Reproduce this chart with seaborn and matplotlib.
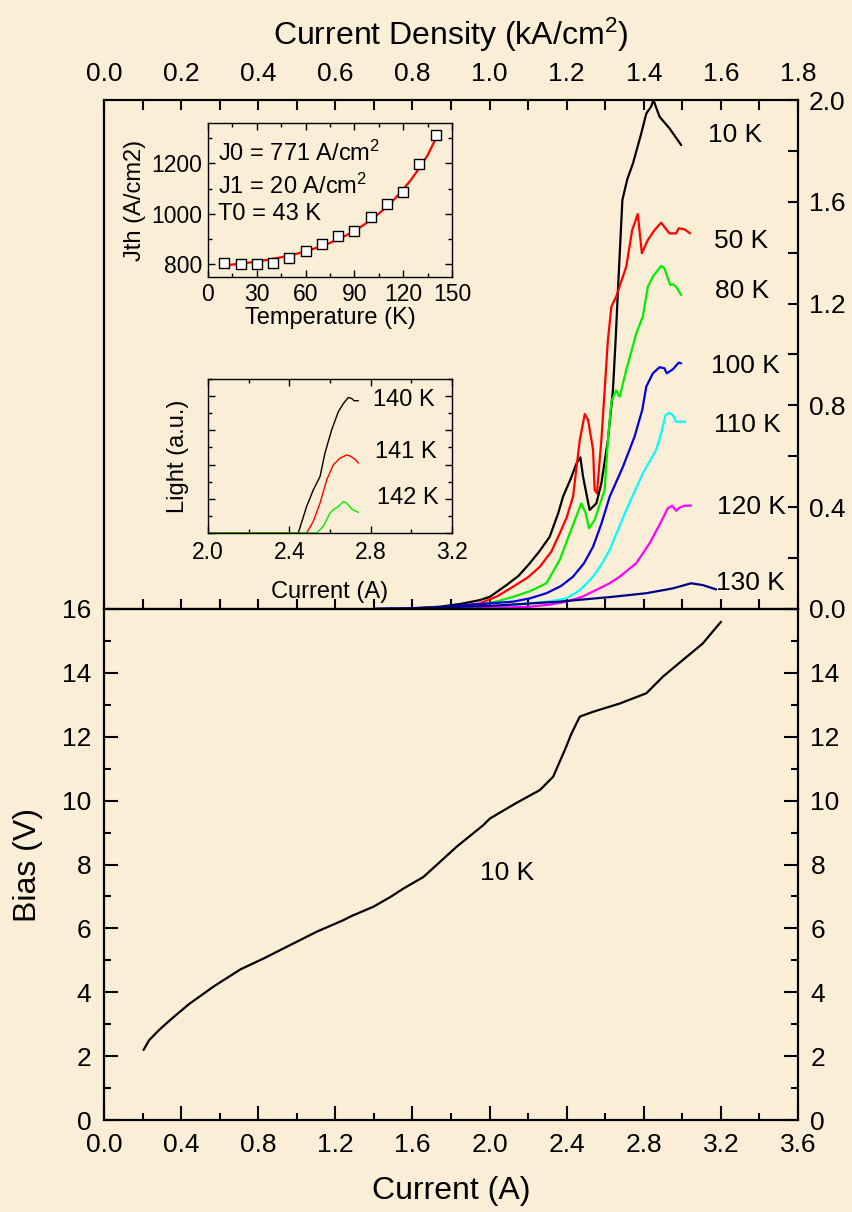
import numpy as np
import pandas as pd
import seaborn as sns
import matplotlib
matplotlib.use("Agg")
import matplotlib.pyplot as plt
from matplotlib.ticker import MultipleLocator, FormatStrFormatter

# ---------------- data ----------------
# Light output (top panel), current in A, light in a.u.
I_10K = [1.397, 1.60, 1.743, 1.85, 1.95, 2.002, 2.088, 2.15, 2.209, 2.26, 2.312, 2.356, 2.381, 2.42, 2.451,
         2.471, 2.485, 2.519, 2.554, 2.580, 2.614, 2.640, 2.654, 2.666, 2.689, 2.715, 2.744, 2.787, 2.813,
         2.838, 2.850, 2.882, 2.933, 2.994]
L_10K = [0.0, 0.003, 0.009, 0.020, 0.035, 0.048, 0.094, 0.130, 0.180, 0.228, 0.284, 0.376, 0.441, 0.510, 0.572,
         0.596, 0.520, 0.389, 0.415, 0.494, 0.664, 0.860, 1.057, 1.253, 1.607, 1.690, 1.751, 1.869, 1.947,
         1.974, 2.0, 1.934, 1.889, 1.823]

I_50K = [1.397, 1.60, 1.80, 1.950, 2.04, 2.123, 2.20, 2.261, 2.32, 2.364, 2.40, 2.433, 2.468, 2.494, 2.511,
         2.537, 2.545, 2.557, 2.580, 2.597, 2.614, 2.632, 2.657, 2.709, 2.740, 2.769, 2.790, 2.821, 2.856,
         2.890, 2.933, 2.968, 2.981, 3.011, 3.040]
L_50K = [0.0, 0.002, 0.008, 0.022, 0.050, 0.088, 0.125, 0.166, 0.225, 0.297, 0.360, 0.441, 0.664, 0.766, 0.743,
         0.625, 0.468, 0.455, 0.664, 0.860, 1.057, 1.188, 1.228, 1.345, 1.489, 1.552, 1.398, 1.450, 1.489,
         1.518, 1.476, 1.476, 1.496, 1.492, 1.476]

I_80K = [1.397, 1.70, 1.950, 2.04, 2.123, 2.21, 2.295, 2.364, 2.416, 2.476, 2.499, 2.516, 2.545, 2.597, 2.614,
         2.632, 2.657, 2.675, 2.709, 2.752, 2.761, 2.795, 2.821, 2.847, 2.890, 2.907, 2.937, 2.951, 2.968, 2.994]
L_80K = [0.0, 0.004, 0.016, 0.030, 0.048, 0.070, 0.101, 0.193, 0.297, 0.415, 0.376, 0.317, 0.350, 0.468, 0.664,
         0.815, 0.860, 0.834, 0.939, 1.057, 1.083, 1.149, 1.266, 1.306, 1.348, 1.339, 1.273, 1.276, 1.266, 1.234]

I_100K = [1.397, 1.70, 1.881, 2.00, 2.123, 2.21, 2.295, 2.37, 2.433, 2.49, 2.537, 2.58, 2.623, 2.692, 2.752,
          2.792, 2.813, 2.847, 2.882, 2.907, 2.919, 2.951, 2.981, 2.994]
L_100K = [0.0, 0.004, 0.016, 0.022, 0.029, 0.042, 0.062, 0.090, 0.127, 0.180, 0.245, 0.335, 0.441, 0.559, 0.677,
          0.782, 0.874, 0.926, 0.950, 0.946, 0.926, 0.942, 0.968, 0.965]

I_110K = [1.397, 1.80, 1.950, 2.10, 2.209, 2.31, 2.399, 2.47, 2.537, 2.58, 2.623, 2.709, 2.795, 2.864, 2.890,
          2.913, 2.933, 2.951, 2.968, 3.016]
L_110K = [0.0, 0.003, 0.005, 0.013, 0.022, 0.030, 0.042, 0.075, 0.127, 0.175, 0.232, 0.389, 0.533, 0.625,
          0.690, 0.762, 0.771, 0.762, 0.736, 0.736]

I_120K = [1.397, 1.90, 2.05, 2.209, 2.31, 2.399, 2.48, 2.554, 2.62, 2.675, 2.761, 2.830, 2.890, 2.925, 2.947,
          2.968, 2.985, 3.011, 3.045]
L_120K = [0.0, 0.002, 0.005, 0.009, 0.017, 0.029, 0.048, 0.075, 0.100, 0.127, 0.180, 0.258, 0.343, 0.396,
          0.406, 0.386, 0.398, 0.406, 0.406]

I_130K = [1.397, 1.588, 2.000, 2.364, 2.640, 2.813, 2.951, 3.045, 3.106, 3.175]
L_130K = [0.0, 0.003, 0.012, 0.029, 0.048, 0.062, 0.081, 0.101, 0.094, 0.077]

temps_main = ["10 K", "50 K", "80 K", "100 K", "110 K", "120 K", "130 K"]
label_x = [3.135, 3.166, 3.171, 3.150, 3.166, 3.181, 3.176]
label_y = [1.862, 1.446, 1.250, 0.955, 0.723, 0.401, 0.102]
colors_main = ["black", "#FF0000", "#00EE00", "#0000DD", "#00FFFF", "#FF00FF", "#000080"]

# Bias vs current at 10 K (bottom panel)
I_bias = [0.205, 0.234, 0.286, 0.347, 0.441, 0.571, 0.709, 0.829, 0.950, 1.036, 1.105, 1.243, 1.278, 1.398,
          1.485, 1.554, 1.657, 1.830, 1.967, 2.002, 2.106, 2.140, 2.261, 2.330, 2.390, 2.425, 2.468, 2.536,
          2.675, 2.813, 2.899, 3.002, 3.106, 3.157, 3.201]
V_bias = [2.19, 2.50, 2.82, 3.15, 3.63, 4.19, 4.72, 5.06, 5.43, 5.69, 5.90, 6.26, 6.37, 6.68,
          6.98, 7.25, 7.61, 8.56, 9.23, 9.44, 9.81, 9.93, 10.33, 10.75, 11.58, 12.10, 12.63, 12.78,
          13.04, 13.36, 13.88, 14.40, 14.92, 15.29, 15.60]
bias_ticks = [0, 2, 4, 6, 8, 10, 12, 14, 16]
bias_right_labels = ["0", "2", "4", "6", "8", "10", "12", "14", ""]

# Inset 1: threshold current density vs temperature
T_K = [10, 20, 30, 40, 50, 60, 70, 80, 90, 100, 110, 120, 130, 140]
Jth = [805, 803, 803, 807, 826, 853, 882, 912, 934, 989, 1039, 1086, 1197, 1312]
T_fit = [10, 15, 20, 25, 30, 35, 40, 45, 50, 55, 60, 65, 70, 75, 80, 85, 90, 95, 100, 105, 110, 115,
         120, 125, 130, 135, 140]
J_fit = [796, 799, 803, 807, 811, 816, 822, 828, 835, 843, 852, 862, 873, 885, 900, 915, 933, 953,
         976, 1001, 1029, 1061, 1097, 1137, 1182, 1232, 1298]
fit_text = ["J0 = 771 A/cm$^2$", "J1 = 20 A/cm$^2$", "T0 = 43 K"]

# Inset 2: light vs current near 140 K
I_140 = [2.0, 2.444, 2.485, 2.518, 2.551, 2.575, 2.608, 2.641, 2.666, 2.690, 2.707, 2.718, 2.740]
L_140 = [0.0, 0.0, 1.55, 2.52, 3.30, 4.66, 6.02, 7.09, 7.57, 7.92, 7.86, 7.73, 7.73]
I_141 = [2.0, 2.485, 2.518, 2.551, 2.584, 2.616, 2.649, 2.682, 2.699, 2.723, 2.740]
L_141 = [0.0, 0.0, 0.68, 1.75, 3.11, 3.98, 4.37, 4.56, 4.50, 4.31, 4.08]
I_142 = [2.0, 2.534, 2.567, 2.600, 2.616, 2.641, 2.666, 2.682, 2.707, 2.740]
L_142 = [0.0, 0.0, 0.39, 1.17, 1.36, 1.55, 1.84, 1.75, 1.40, 1.20]
inset_temps = ["140 K", "141 K", "142 K"]
inset_lx = [2.811, 2.821, 2.831]
inset_ly = [7.8, 4.74, 2.05]
inset_colors = ["black", "#FF0000", "#00EE00"]

# ---------------- style ----------------
BG = "#FAEFD6"
sns.set_theme(style="ticks")
plt.rcParams["font.family"] = ["Liberation Sans", "DejaVu Sans"]
plt.rcParams["mathtext.default"] = "regular"
plt.rcParams["axes.linewidth"] = 1.5
plt.rcParams["xtick.direction"] = "in"
plt.rcParams["ytick.direction"] = "in"
for k in ["text.color", "axes.labelcolor", "xtick.color", "ytick.color", "axes.edgecolor"]:
    plt.rcParams[k] = "black"

fig = plt.figure(figsize=(8.53, 12.12), dpi=100, facecolor=BG)

L, W = 104 / 853, 694 / 853
ax_b = fig.add_axes([L, 92 / 1212, W, 511 / 1212])
ax_t = fig.add_axes([L, 603 / 1212, W, 509 / 1212])
for a in (ax_b, ax_t):
    a.set_facecolor("none")
    for s in a.spines.values():
        s.set_color("black")
        s.set_linewidth(1.5)

TICK = 19

# ---- top panel: light output ----
series = [(I_10K, L_10K), (I_50K, L_50K), (I_80K, L_80K), (I_100K, L_100K),
          (I_110K, L_110K), (I_120K, L_120K), (I_130K, L_130K)]
for (xi, yi), c in zip(series, colors_main):
    sns.lineplot(x=xi, y=yi, ax=ax_t, color=c, linewidth=1.6, sort=False, estimator=None)
for t, x, y in zip(temps_main, label_x, label_y):
    ax_t.text(x, y, t, fontsize=19, ha="left", va="center", color="black")

ax_t.set_xlim(0, 3.6)
ax_t.set_ylim(0, 2.0)
ax_t.yaxis.set_ticks_position("right")
ax_t.yaxis.set_label_position("right")
ax_t.yaxis.set_major_locator(MultipleLocator(0.4))
ax_t.yaxis.set_minor_locator(MultipleLocator(0.2))
ax_t.yaxis.set_major_formatter(FormatStrFormatter("%.1f"))
ax_t.tick_params(axis="y", which="both", direction="in", length=7, width=1.5, labelsize=TICK, pad=8,
                 left=False, right=True, labelleft=False, labelright=True)
ax_t.xaxis.set_major_locator(MultipleLocator(0.2))
ax_t.tick_params(axis="x", which="both", direction="in", length=7, width=1.5,
                 bottom=True, top=False, labelbottom=False)
ax_t.set_xlabel("")
ax_t.set_ylabel("")

ax_d = ax_t.twiny()
ax_d.set_xlim(0, 1.8)
ax_d.xaxis.set_major_locator(MultipleLocator(0.2))
ax_d.xaxis.set_minor_locator(MultipleLocator(0.1))
ax_d.xaxis.set_major_formatter(FormatStrFormatter("%.1f"))
ax_d.tick_params(axis="x", which="both", direction="in", length=7, width=1.5, labelsize=TICK, pad=10)
ax_d.set_xlabel("Current Density (kA/cm$^2$)", fontsize=23, labelpad=12)
ax_d.spines["top"].set_linewidth(1.5)

# ---- bottom panel: bias ----
sns.lineplot(x=I_bias, y=V_bias, ax=ax_b, color="black", linewidth=1.6, sort=False, estimator=None)
ax_b.text(1.950, 7.73, "10 K", fontsize=19, ha="left", va="center")
ax_b.set_xlim(0, 3.6)
ax_b.set_ylim(0, 16)
ax_b.xaxis.set_major_locator(MultipleLocator(0.4))
ax_b.xaxis.set_minor_locator(MultipleLocator(0.2))
ax_b.xaxis.set_major_formatter(FormatStrFormatter("%.1f"))
ax_b.set_yticks(bias_ticks)
ax_b.yaxis.set_minor_locator(MultipleLocator(1))
ax_b.tick_params(which="major", direction="in", length=10, width=1.5, labelsize=TICK, pad=9,
                 left=True, right=True, labelleft=True, labelright=False, top=False)
ax_b.tick_params(which="minor", direction="in", length=5, width=1.5,
                 left=True, right=True, top=False)
ax_b.set_xlabel("Current (A)", fontsize=23, labelpad=14)
ax_b.set_ylabel("Bias (V)", fontsize=23, labelpad=14)

ax_r = ax_b.twinx()
ax_r.set_ylim(0, 16)
ax_r.set_yticks(bias_ticks)
ax_r.set_yticklabels(bias_right_labels)
ax_r.tick_params(axis="y", which="major", direction="in", length=10, width=1.5, labelsize=TICK, pad=9)
ax_r.yaxis.set_minor_locator(MultipleLocator(1))
ax_r.tick_params(axis="y", which="minor", direction="in", length=5, width=1.5)
ax_r.set_facecolor("none")

# ---- inset 1: Jth vs T ----
ax_i1 = fig.add_axes([208 / 853, 935 / 1212, 244 / 853, 154 / 1212])
ax_i1.set_facecolor("none")
sns.lineplot(x=T_fit, y=J_fit, ax=ax_i1, color="#FF0000", linewidth=1.6, sort=False, estimator=None)
sns.scatterplot(x=T_K, y=Jth, ax=ax_i1, marker="s", s=60, facecolor="white",
                edgecolor="black", linewidth=1.0, zorder=3)
ax_i1.set_xlim(0, 150)
ax_i1.set_ylim(750, 1360)
ax_i1.xaxis.set_major_locator(MultipleLocator(30))
ax_i1.xaxis.set_minor_locator(MultipleLocator(15))
ax_i1.yaxis.set_major_locator(MultipleLocator(200))
ax_i1.yaxis.set_minor_locator(MultipleLocator(100))
ax_i1.tick_params(which="major", direction="in", length=5, width=1.0, labelsize=16.5, pad=4,
                  top=True, right=True)
ax_i1.tick_params(which="minor", direction="in", length=3, width=1.0, top=True, right=True)
ax_i1.set_xlabel("Temperature (K)", fontsize=17, labelpad=1)
ax_i1.set_ylabel("Jth (A/cm2)", fontsize=17, labelpad=4)
for s in ax_i1.spines.values():
    s.set_linewidth(1.0)
    s.set_color("black")
for t, y in zip(fit_text, [1238, 1110, 1000]):
    ax_i1.text(6, y, t, fontsize=17, ha="left", va="center")

# ---- inset 2: light vs current near 140 K ----
ax_i2 = fig.add_axes([208 / 853, 679 / 1212, 244 / 853, 154 / 1212])
ax_i2.set_facecolor("none")
for (xi, yi), c in zip([(I_140, L_140), (I_141, L_141), (I_142, L_142)], inset_colors):
    sns.lineplot(x=xi, y=yi, ax=ax_i2, color=c, linewidth=1.0, sort=False, estimator=None)
for t, x, y in zip(inset_temps, inset_lx, inset_ly):
    ax_i2.text(x, y, t, fontsize=17, ha="left", va="center")
ax_i2.set_xlim(2.0, 3.2)
ax_i2.set_ylim(0, 9)
ax_i2.xaxis.set_major_locator(MultipleLocator(0.4))
ax_i2.xaxis.set_minor_locator(MultipleLocator(0.2))
ax_i2.xaxis.set_major_formatter(FormatStrFormatter("%.1f"))
ax_i2.yaxis.set_major_locator(MultipleLocator(2))
ax_i2.yaxis.set_minor_locator(MultipleLocator(1))
ax_i2.tick_params(which="major", direction="in", length=5, width=1.0, labelsize=16.5, pad=6,
                  top=True, right=True, labelleft=False)
ax_i2.tick_params(which="minor", direction="in", length=3, width=1.0, top=True, right=True)
ax_i2.set_xlabel("Current (A)", fontsize=17, labelpad=12)
ax_i2.set_ylabel("Light (a.u.)", fontsize=17, labelpad=10)
for s in ax_i2.spines.values():
    s.set_linewidth(1.0)
    s.set_color("black")

fig.savefig("out.png", dpi=100, facecolor=BG)
